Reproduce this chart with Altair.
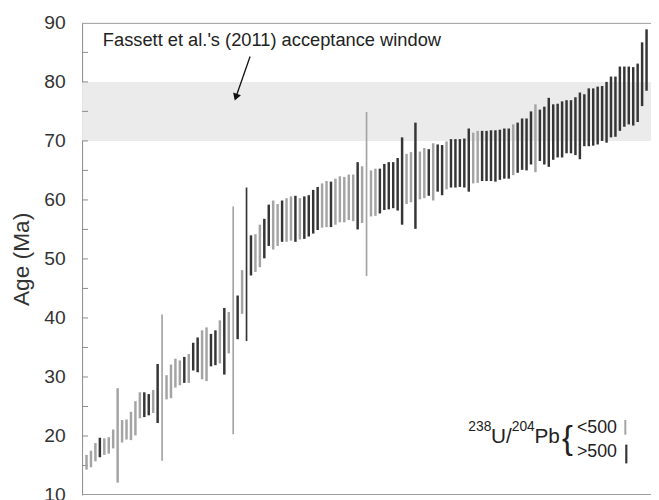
import altair as alt
import pandas as pd

# ---- data (sorted analyses) ----
age_low = [14.3, 14.7, 15.7, 16.4, 16.8, 17.0, 17.9, 12.1, 18.9, 19.4,
           19.3, 20.1, 23.0, 23.2, 23.5, 23.9, 22.2, 15.8, 26.2, 26.4,
           28.2, 28.6, 29.0, 29.0, 31.1, 30.8, 29.6, 29.3, 31.8, 32.0,
           32.3, 30.4, 34.0, 20.3, 36.4, 40.7, 36.1, 47.2, 47.8, 48.6,
           50.1, 52.2, 51.6, 52.2, 52.9, 52.9, 53.1, 52.9, 53.3, 53.4,
           53.8, 54.3, 54.9, 55.3, 55.4, 55.4, 55.8, 56.2, 56.2, 56.6,
           56.4, 55.0, 56.1, 47.1, 57.2, 57.3, 57.7, 58.3, 58.4, 58.6,
           58.2, 55.8, 59.3, 59.6, 55.1, 60.1, 60.3, 60.7, 59.9, 61.4,
           60.8, 61.8, 62.1, 62.1, 62.2, 62.1, 61.4, 62.8, 62.9, 63.2,
           63.2, 63.2, 63.1, 63.4, 63.6, 63.6, 64.2, 64.6, 65.1, 65.0,
           66.0, 64.7, 66.6, 66.0, 65.6, 66.8, 67.2, 67.2, 67.9, 67.9,
           67.6, 66.9, 69.1, 69.1, 69.2, 69.4, 70.0, 69.7, 70.6, 70.7,
           71.7, 72.4, 72.8, 72.6, 73.2, 75.9, 78.5]
age_high = [16.8, 17.5, 18.8, 19.7, 19.6, 19.8, 21.1, 28.1, 22.7, 22.8,
            24.1, 25.9, 27.4, 27.4, 27.1, 27.8, 32.2, 40.6, 30.3, 32.1,
            33.1, 32.8, 33.4, 33.9, 35.8, 36.7, 37.9, 38.4, 37.3, 37.9,
            39.6, 41.7, 41.0, 58.9, 43.8, 48.1, 62.1, 54.0, 54.2, 55.8,
            56.8, 59.2, 59.9, 59.3, 59.9, 60.3, 60.6, 60.7, 60.3, 60.6,
            60.8, 61.7, 62.2, 62.8, 63.2, 63.1, 63.6, 64.0, 63.9, 64.3,
            64.3, 66.4, 65.7, 74.9, 65.0, 65.3, 65.3, 66.1, 66.4, 66.4,
            67.1, 70.6, 67.8, 68.1, 73.1, 68.2, 68.8, 68.6, 69.6, 69.4,
            69.3, 69.9, 70.3, 70.3, 70.3, 70.4, 72.1, 71.4, 71.7, 71.7,
            71.7, 71.8, 71.8, 71.9, 72.1, 72.1, 72.8, 73.1, 73.8, 73.8,
            75.0, 76.2, 75.3, 75.8, 77.3, 76.2, 76.3, 76.7, 76.9, 76.9,
            77.4, 78.2, 77.9, 78.9, 78.9, 79.2, 79.3, 80.0, 80.9, 80.9,
            82.6, 82.6, 82.6, 82.5, 83.1, 86.7, 88.9]
G, B = "<500", ">500"
u_pb_class = [G, G, G, B, G, G, G, G, G, G,
              G, G, G, B, B, G, B, G, G, G,
              G, G, B, G, B, B, G, G, B, B,
              G, B, G, G, B, G, B, B, G, G,
              B, B, G, G, B, G, G, B, G, B,
              B, B, B, G, G, B, G, G, G, G,
              G, B, G, G, G, G, B, B, B, B,
              B, B, G, G, B, G, G, B, G, B,
              B, G, B, B, B, B, B, G, G, B,
              B, B, B, B, B, B, G, B, B, B,
              B, G, B, B, B, B, B, B, B, B,
              B, B, B, B, B, B, B, B, B, B,
              B, B, B, B, B, B, B]

window_low = [70]
window_high = [80]
y_labels = [10, 20, 30, 40, 50, 60, 70, 80, 90]
y_ticks = [15, 20, 25, 30, 35, 40, 45, 50, 55, 60, 65, 70, 75, 80, 85]

annotation_text = ["Fassett et al.'s (2011) acceptance window"]
arrow_from_idx = [37.8]
arrow_from_age = [84.3]
arrow_to_idx = [34.6]
arrow_to_age = [77.4]

W, H = 576, 478
FONT = "Liberation Sans"
GRAY, BLACK = "#a4a4a4", "#353535"

df = pd.DataFrame({
    "idx": list(range(1, len(age_low) + 1)),
    "lo": age_low,
    "hi": age_high,
    "cls": u_pb_class,
})

xs = alt.Scale(domain=[0, 128], nice=False, zero=False)
ys = alt.Scale(domain=[10, 90], nice=False, zero=False)
y_axis = alt.Axis(
    values=y_labels, ticks=False, tickSize=0, grid=False,
    labelFont=FONT, labelFontSize=19.5, labelColor="#333", labelPadding=17,
    domainColor="#8a8a8a", domainWidth=1,
    title="Age (Ma)", titleFont=FONT, titleFontSize=23, titleFontWeight="normal",
    titleColor="#333", titleX=-61, titleY=H / 2, titleBaseline="middle", titleAngle=270,
)
one = pd.DataFrame({"k": [0]})


def Y(field):
    return alt.Y(field, scale=ys, axis=y_axis)


band = alt.Chart(pd.DataFrame({"lo": window_low, "hi": window_high})).mark_rect(
    color="#ebebeb"
).encode(x=alt.value(0), x2=alt.value(W), y=Y("lo:Q"), y2="hi:Q")

ticks = alt.Chart(pd.DataFrame({"t": y_ticks})).mark_rule(color="#8a8a8a", strokeWidth=1).encode(
    y=Y("t:Q"), x=alt.value(0), x2=alt.value(6)
)

frame_top = alt.Chart(one).mark_rule(color="#9a9a9a", strokeWidth=1).encode(
    x=alt.value(0), x2=alt.value(W), y=alt.value(0.5)
)
frame_bottom = alt.Chart(one).mark_rule(color="#9a9a9a", strokeWidth=1).encode(
    x=alt.value(0), x2=alt.value(W), y=alt.value(H - 0.5)
)

bars = alt.Chart(df).transform_calculate(
    span="datum.hi - datum.lo"
).mark_rule().encode(
    x=alt.X("idx:Q", scale=xs, axis=None),
    y=Y("lo:Q"),
    y2="hi:Q",
    color=alt.Color("cls:N", scale=alt.Scale(domain=[G, B], range=[GRAY, BLACK]), legend=None),
    strokeWidth=alt.condition("datum.span > 18", alt.value(1.7), alt.value(2.5)),
)

note = alt.Chart(pd.DataFrame({"txt": annotation_text})).mark_text(
    align="left", baseline="middle", font=FONT, fontSize=18.5, color="#222"
).encode(x=alt.value(21), y=alt.value(17), text="txt:N")

arrow_df = pd.DataFrame({"x1": arrow_from_idx, "y1": arrow_from_age,
                         "x2": arrow_to_idx, "y2": arrow_to_age})
arrow_line = alt.Chart(arrow_df).mark_rule(color="#111", strokeWidth=1.3).encode(
    x=alt.X("x1:Q", scale=xs, axis=None), y=Y("y1:Q"),
    x2="x2:Q", y2="y2:Q",
)
arrow_head = alt.Chart(arrow_df).mark_point(
    shape="triangle-down", filled=True, color="#111", size=70, angle=19, opacity=1
).encode(x=alt.X("x2:Q", scale=xs, axis=None), y=Y("y2:Q"))


def label(txt, x, y, size, baseline="alphabetic", weight="normal"):
    return alt.Chart(pd.DataFrame({"txt": [txt]})).mark_text(
        align="left", baseline=baseline, font=FONT, fontSize=size, color="#222",
        fontWeight=weight,
    ).encode(x=alt.value(x), y=alt.value(y), text="txt:N")


legend = [
    label("238", 391, 413, 14),
    label("U/", 414, 425, 21),
    label("204", 435, 413, 14),
    label("Pb", 458, 425, 21),
    label("{", 486, 421, 33, baseline="middle", weight=300),
    label("<500", 501, 410, 18, baseline="middle"),
    label(">500", 501, 435, 18, baseline="middle"),
]
leg_gray = alt.Chart(one).mark_rule(color=GRAY, strokeWidth=2).encode(
    x=alt.value(550), y=alt.value(402), y2=alt.value(417))
leg_black = alt.Chart(one).mark_rule(color=BLACK, strokeWidth=2.2).encode(
    x=alt.value(551), y=alt.value(427), y2=alt.value(446))

chart = alt.layer(
    band, ticks, frame_top, frame_bottom, bars, note, arrow_line, arrow_head,
    *legend, leg_gray, leg_black
).properties(
    width=W, height=H,
    autosize=alt.AutoSizeParams(type="none"),
    padding={"left": 75, "top": 12, "right": 0, "bottom": 2},
    background="white",
).configure_view(stroke=None)

chart.save("out.html", embed_options={"renderer": "svg", "actions": False})
